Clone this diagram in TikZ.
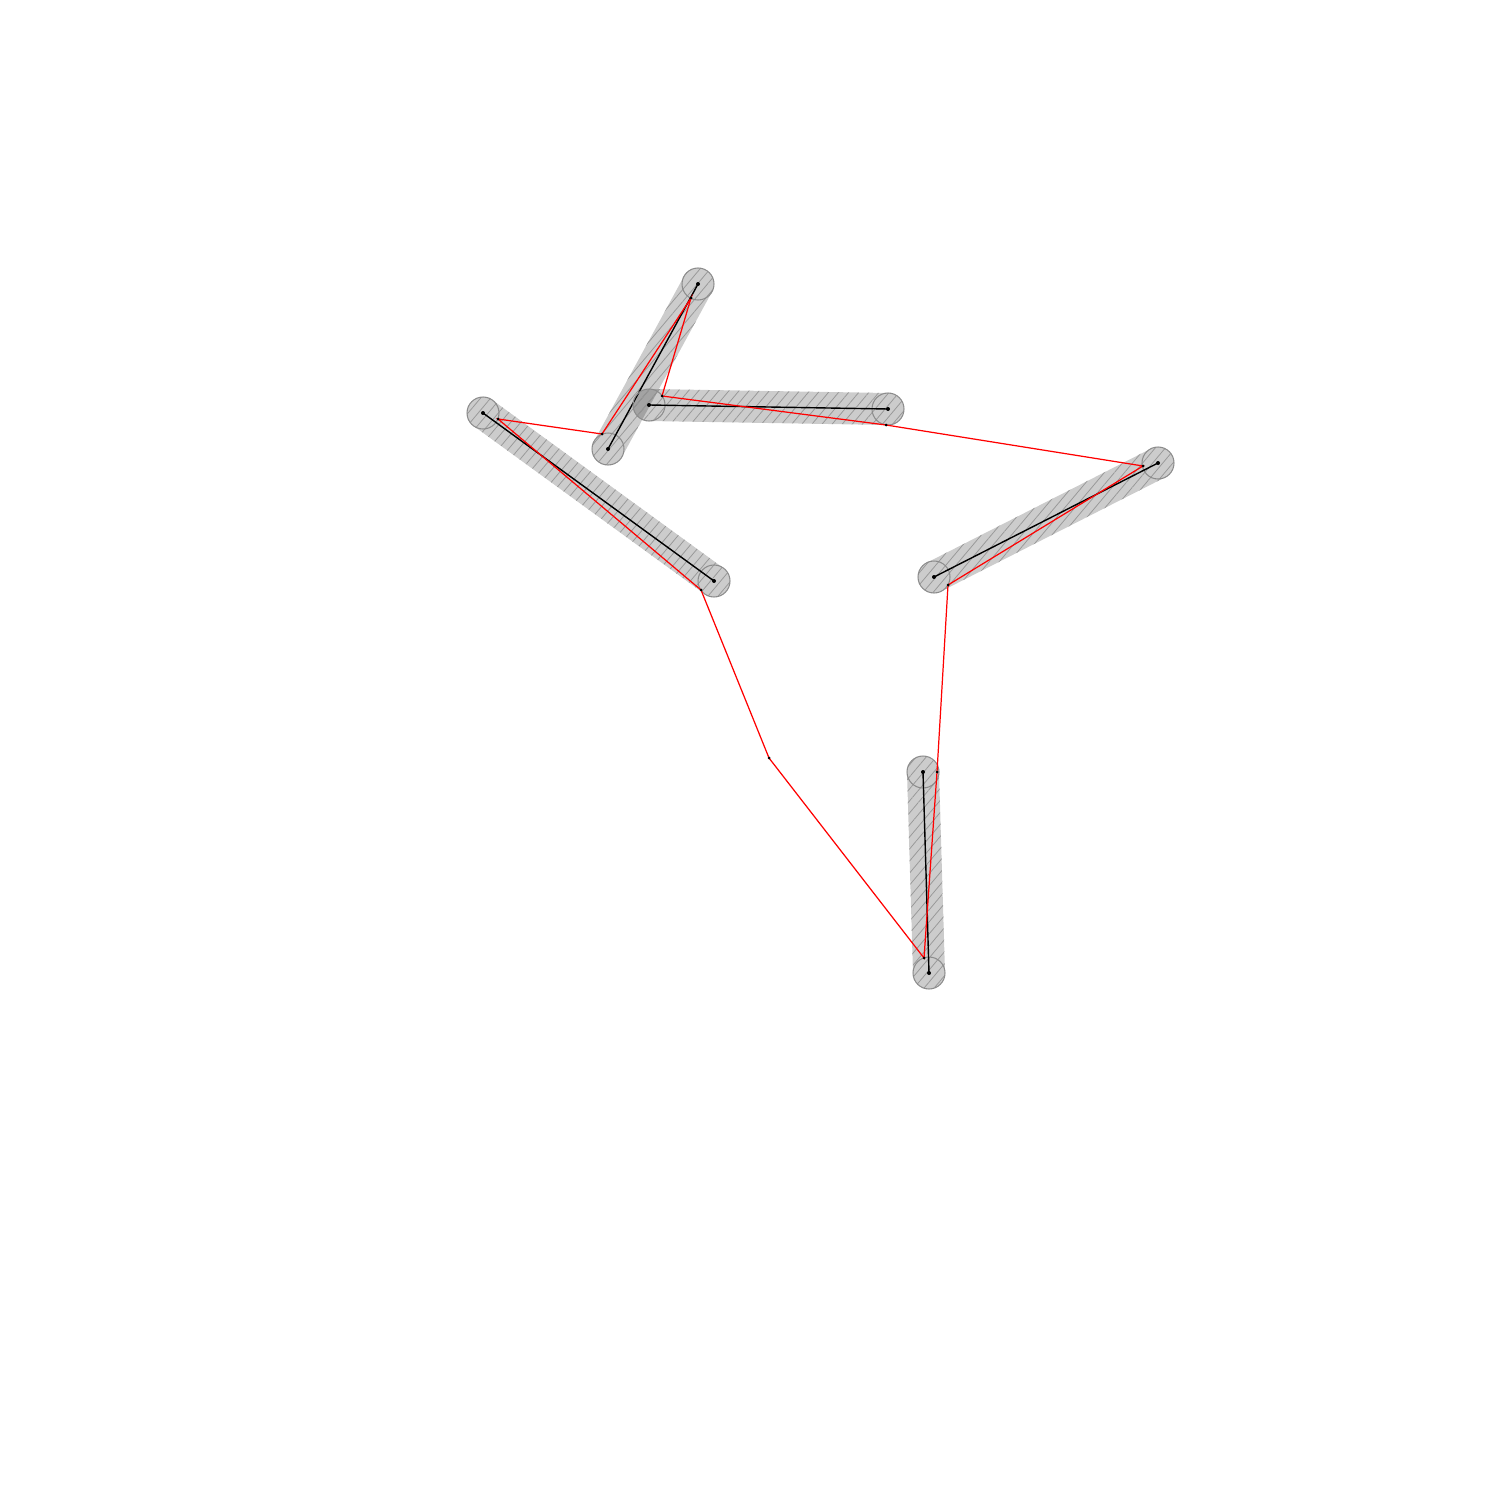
\documentclass[tikz,border=0pt]{standalone}
\usetikzlibrary{calc, patterns.meta}

\newcommand{\caprad}{0.32cm}
% one rounded band between two named points
\newcommand{\drawcapsule}[2]{%
  \fill[capsule] let \p1=(#1), \p2=(#2), \n1={atan2(\y2-\y1,\x2-\x1)} in
    ($(#1)+(\n1+90:\caprad)$) -- ($(#2)+(\n1+90:\caprad)$)
    arc[start angle=\n1+90, end angle=\n1-90, radius=\caprad]
    -- ($(#1)+(\n1-90:\caprad)$)
    arc[start angle=\n1-90, end angle=\n1-270, radius=\caprad] -- cycle;
  \draw[endcap] (#1) circle[radius=\caprad];
  \draw[endcap] (#2) circle[radius=\caprad];
  \draw[seg] (#1) -- (#2);
  \fill (#1) circle[radius=0.04cm];
  \fill (#2) circle[radius=0.04cm];
}

\tikzset{
  capsule/.style={fill=black, fill opacity=0.2,
    postaction={fill opacity=1, pattern={Lines[angle=50, distance=4.4pt, line width=0.45pt]}, pattern color=black!40}},
  endcap/.style={draw=black!45, line width=0.6pt},
  seg/.style={black, line width=0.8pt},
  route/.style={red, line width=0.7pt},
}

\begin{document}
\begin{tikzpicture}[x=0.02cm, y=-0.02cm]
    \useasboundingbox (0,0) rectangle (1500,1500);

    % band end points
    \coordinate (c1a) at (698,284);
    \coordinate (c1b) at (608,449);
    \coordinate (c2a) at (649,405);
    \coordinate (c2b) at (888,409);
    \coordinate (c3a) at (483,413);
    \coordinate (c3b) at (714,581);
    \coordinate (c4a) at (934,577);
    \coordinate (c4b) at (1158,463);
    \coordinate (c5a) at (923,772);
    \coordinate (c5b) at (929,973);

    % tour points
    \coordinate (r0) at (769,758);
    \coordinate (r1) at (924,958);
    \coordinate (r2) at (937,772);
    \coordinate (r3) at (948,585);
    \coordinate (r4) at (1143,466);
    \coordinate (r5) at (886,425);
    \coordinate (r6) at (662,396);
    \coordinate (r7) at (691,298);
    \coordinate (r8) at (602,434);
    \coordinate (r9) at (498,419);
    \coordinate (r10) at (701,590);

    \drawcapsule{c1a}{c1b}
    \drawcapsule{c2a}{c2b}
    \drawcapsule{c3a}{c3b}
    \drawcapsule{c4a}{c4b}
    \drawcapsule{c5a}{c5b}

    \draw[route] (r0) -- (r1) -- (r2) -- (r3) -- (r4) -- (r5) -- (r6)
        -- (r7) -- (r8) -- (r9) -- (r10) -- cycle;
    \foreach \i in {0,...,10}
        \fill (r\i) circle[radius=0.03cm];
\end{tikzpicture}
\end{document}
